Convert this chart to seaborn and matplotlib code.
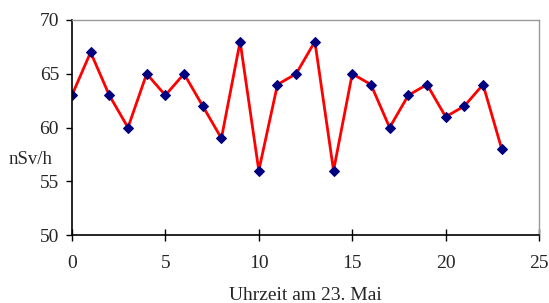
import matplotlib
matplotlib.use('Agg')
import matplotlib.pyplot as plt
import seaborn as sns

# Hourly dose rate readings
hours = list(range(24))
dose_rate = [63, 67, 63, 60, 65, 63, 65, 62, 59, 68, 56, 64,
             65, 68, 56, 65, 64, 60, 63, 64, 61, 62, 64, 58]

sns.set_style("white")
plt.rcParams['font.family'] = ['Liberation Serif', 'DejaVu Serif']

fig = plt.figure(figsize=(5.49, 3.03), dpi=100)
ax = fig.add_axes([0.131, 0.224, 0.851, 0.710])

sns.lineplot(x=hours, y=dose_rate, ax=ax, color='#ff0000', linewidth=2,
             marker='D', markersize=5.5, markerfacecolor='#000080',
             markeredgecolor='#000080')

ax.set_xlim(0, 25)
ax.set_ylim(50, 70)
ax.set_xticks([0, 5, 10, 15, 20, 25])
ax.set_yticks([50, 55, 60, 65, 70])
ax.tick_params(axis='x', bottom=True, direction='inout', length=8.6, width=1,
               color='black', labelsize=14, pad=10)
ax.tick_params(axis='y', left=True, direction='out', length=4.3, width=1,
               color='black', labelsize=14, pad=5)

for side in ['left', 'bottom']:
    ax.spines[side].set_color('black')
    ax.spines[side].set_linewidth(1.2)
for side in ['top', 'right']:
    ax.spines[side].set_color('#999999')
    ax.spines[side].set_linewidth(1)

ax.set_xlabel('Uhrzeit am 23. Mai', fontsize=14, labelpad=11)
ax.set_ylabel('nSv/h', fontsize=13.5, rotation=0, ha='right', va='center')
ax.yaxis.set_label_coords(-0.041, 0.35)

fig.savefig('out.png', dpi=100)
